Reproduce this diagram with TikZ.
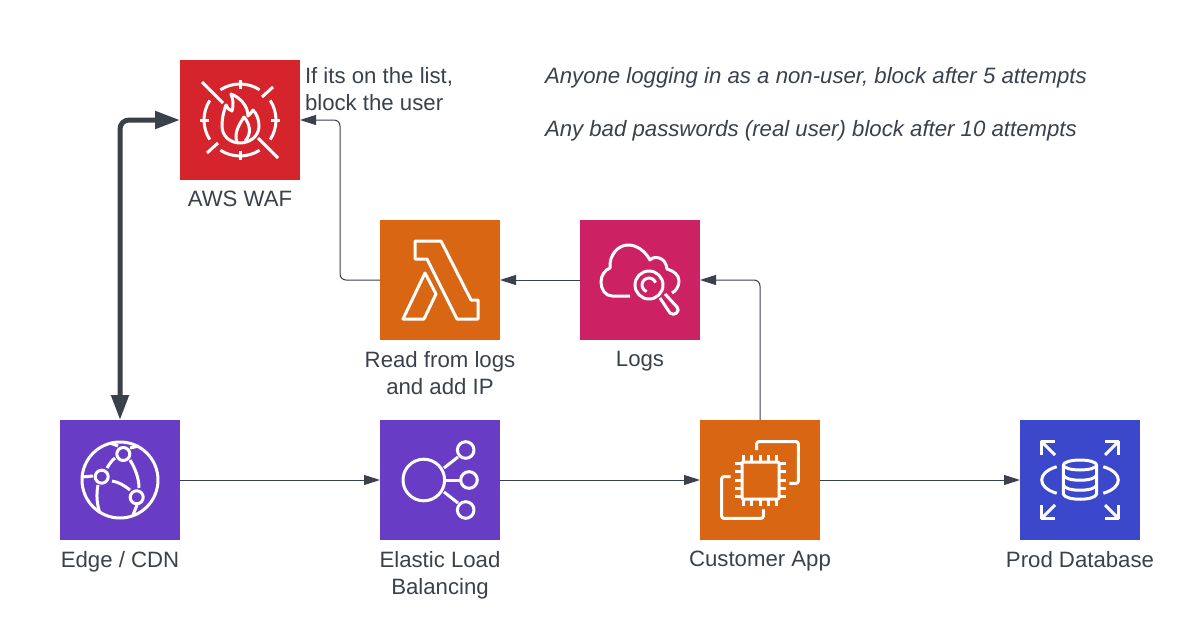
\documentclass[tikz,border=0pt]{standalone}
\usepackage{fontspec}
\setmainfont{Liberation Sans}
\usetikzlibrary{positioning,arrows.meta}
\definecolor{wafred}{HTML}{D6242D}
\definecolor{awsorange}{HTML}{D86613}
\definecolor{logpink}{HTML}{CC2264}
\definecolor{netpurple}{HTML}{693CC5}
\definecolor{dbblue}{HTML}{3B48CC}
\definecolor{inkgray}{HTML}{3A414A}
\tikzset{
  iconbox/.style={minimum size=120pt, inner sep=0pt, outer sep=0pt},
  iconline/.style={draw=white, line width=3pt, line join=round},
  caption/.style={text=inkgray, font=\fontsize{22.2}{27}\selectfont, align=center, inner sep=0pt, outer sep=0pt},
  note/.style={text=inkgray, font=\fontsize{22.2}{27}\selectfont, align=left, inner sep=0pt, outer sep=0pt, anchor=west},
  thinarrow/.style={draw=inkgray, line width=1pt, rounded corners=6pt, -{Triangle[length=16pt,width=10pt]}},
  boldarrow/.style={draw=inkgray, line width=5pt, rounded corners=9pt, {Triangle[length=25pt,width=17pt]}-{Triangle[length=25pt,width=17pt]}},
}
\begin{document}
\begin{tikzpicture}[x=1pt,y=-1pt]
  \useasboundingbox (0,0) rectangle (1200,640);

  % icon squares
  \node[iconbox, fill=wafred] (waf) at (240,120) {};
  \node[iconbox, fill=awsorange] (lambda) at (440,280) {};
  \node[iconbox, fill=logpink] (logs) at (640,280) {};
  \node[iconbox, fill=netpurple] (edge) at (120,480) {};
  \node[iconbox, fill=netpurple] (elb) at (440,480) {};
  \node[iconbox, fill=awsorange] (app) at (760,480) {};
  \node[iconbox, fill=dbblue] (db) at (1080,480) {};

  % captions
  \node[caption, below=11pt of waf] (waflabel) {AWS WAF};
  \node[caption, below=11pt of lambda] (lambdalabel) {Read from logs\\and add IP};
  \node[caption, below=11pt of logs] (logslabel) {Logs};
  \node[caption, below=11pt of edge] (edgelabel) {Edge / CDN};
  \node[caption, below=11pt of elb] (elblabel) {Elastic Load\\Balancing};
  \node[caption, below=11pt of app] (applabel) {Customer App};
  \node[caption, below=11pt of db] (dblabel) {Prod Database};

  % notes
  \node[note] (listnote) at (305,89) {If its on the list,\\block the user};
  \node[note, font=\fontsize{22.2}{27}\selectfont\itshape] (usernote) at (545,78) {Anyone logging in as a non-user, block after 5 attempts};
  \node[note, font=\fontsize{22.2}{27}\selectfont\itshape] (passnote) at (545,131) {Any bad passwords (real user) block after 10 attempts};

  % connectors
  \coordinate (wafbend) at (340,200);
  \draw[boldarrow] (edge.north) |- (waf.west);
  \draw[thinarrow] (lambda.west) -| (wafbend) |- (waf.east);
  \draw[thinarrow] (logs.west) -- (lambda.east);
  \draw[thinarrow] (app.north) |- (logs.east);
  \draw[thinarrow] (edge.east) -- (elb.west);
  \draw[thinarrow] (elb.east) -- (app.west);
  \draw[thinarrow] (app.east) -- (db.west);

  % waf icon
  \begin{scope}[shift={(waf.north west)}, iconline]
    \foreach \a in {0,90,180,270} {
      \draw (60,60) ++(\a-33:36pt) arc[start angle=\a-33, end angle=\a+33, radius=36pt];
      \draw (60,60) ++(\a:31pt) -- ++(\a:9pt);
    }
    \draw (22,22) -- (43,43);
    \draw (78,78) -- (98,98);
    \draw (82,37) -- (93,27);
    \draw (27,93) -- (38,83);
    \draw (60,83) .. controls (50,83) and (42,76) .. (42,66) .. controls (42,58) and (44,50) .. (46,45)
      .. controls (47,48) and (49,50) .. (52,51) .. controls (54,45) and (53,39) .. (51,34)
      .. controls (59,37) and (68,45) .. (68,56) .. controls (70,54) and (72,52) .. (73,50)
      .. controls (77,54) and (79,60) .. (79,66) .. controls (79,76) and (70,83) .. (60,83);
    \draw (57,82) .. controls (54,74) and (58,66) .. (64,57) .. controls (70,64) and (72,74) .. (65,81);
  \end{scope}

  % lambda icon
  \begin{scope}[shift={(lambda.north west)}, iconline]
    \draw (35,21) -- (61,21) -- (91,80) -- (98,80) -- (98,99) -- (77,99) -- (47,39) -- (35,39) -- cycle;
    \draw (45,53) -- (56,74) -- (44,99) -- (23,99) -- cycle;
  \end{scope}

  % logs icon
  \begin{scope}[shift={(logs.north west)}, iconline]
    \draw (50,76) -- (32,76) .. controls (25,76) and (21,69) .. (21,62) .. controls (21,55) and (25,50) .. (30,48)
      .. controls (29,35) and (38,25) .. (48,25) .. controls (57,25) and (65,31) .. (70,40)
      .. controls (74,35) and (86,37) .. (87,49) .. controls (94,51) and (99,55) .. (99,61)
      .. controls (99,66) and (96,71) .. (92,73);
    \draw (69,65) circle[radius=14pt];
    \draw (69,65) ++(20:7pt) arc[start angle=20, end angle=250, radius=7pt];
    \draw (80,78) -- (90,93) .. controls (94,97) and (101,91) .. (97,87) -- (85,74);
  \end{scope}

  % edge icon
  \begin{scope}[shift={(edge.north west)}, iconline]
    \draw (60,60) circle[radius=38pt];
    \draw (63.3,34) circle[radius=6.5pt];
    \draw (41.7,56.7) circle[radius=6.5pt];
    \draw (76.7,77.3) circle[radius=6.5pt];
    \draw (55,38) .. controls (51,41) and (49,45) .. (47,48);
    \draw (52,61) .. controls (59,62) and (65,66) .. (70,70);
    \draw (70,40) .. controls (75,48) and (79,58) .. (79,68);
    \draw (22,57) -- (33,56);
    \draw (38,65) .. controls (36,75) and (37,85) .. (40,93);
    \draw (50,23) -- (58,26);
    \draw (70,28) -- (79,26);
    \draw (77,85) -- (73,95);
  \end{scope}

  % elb icon
  \begin{scope}[shift={(elb.north west)}, iconline]
    \draw (43.8,60) circle[radius=20.8pt];
    \draw (85.7,30) circle[radius=8.3pt];
    \draw (89,60) circle[radius=8.3pt];
    \draw (85.7,90) circle[radius=8.3pt];
    \draw (64,48) -- (78,37);
    \draw (65,60) -- (80,60);
    \draw (64,72) -- (78,83);
  \end{scope}

  % app icon
  \begin{scope}[shift={(app.north west)}, iconline]
    \draw[rounded corners=2pt] (56.7,30) -- (56.7,21.7) -- (98.3,21.7) -- (98.3,63.3) -- (89.3,63.3);
    \draw[rounded corners=2pt] (30.7,56.7) -- (21.7,56.7) -- (21.7,98.3) -- (63.3,98.3) -- (63.3,89.3);
    \draw[rounded corners=1pt] (42,42) rectangle (79,79);
    \foreach \p in {43.3,51.7,60,68.3,76.7} {
      \draw (\p,35) -- (\p,42);
      \draw (\p,79) -- (\p,86);
      \draw (35,\p) -- (42,\p);
      \draw (79,\p) -- (86,\p);
    }
  \end{scope}

  % database icon
  \begin{scope}[shift={(db.north west)}, iconline]
    \draw (60,45) ellipse[x radius=16.7pt, y radius=5pt];
    \draw (43.3,45) -- (43.3,74) .. controls (45,81) and (75,81) .. (76.7,74) -- (76.7,45);
    \foreach \y in {55,65} {
      \draw (43.3,\y) .. controls (45,\y+7) and (75,\y+7) .. (76.7,\y);
    }
    \draw (36.7,46.7) .. controls (26,50) and (21.7,55) .. (21.7,60) .. controls (21.7,65) and (26,70) .. (36.7,73.3);
    \draw (83.3,46.7) .. controls (94,50) and (98.3,55) .. (98.3,60) .. controls (98.3,65) and (94,70) .. (83.3,73.3);
    \draw (35,35) -- (21.7,21.7);
    \draw (21.7,35) -- (21.7,21.7) -- (35,21.7);
    \draw (85,35) -- (98.3,21.7);
    \draw (85,21.7) -- (98.3,21.7) -- (98.3,35);
    \draw (35,85) -- (21.7,98.3);
    \draw (21.7,85) -- (21.7,98.3) -- (35,98.3);
    \draw (85,85) -- (98.3,98.3);
    \draw (98.3,85) -- (98.3,98.3) -- (85,98.3);
  \end{scope}
\end{tikzpicture}
\end{document}
